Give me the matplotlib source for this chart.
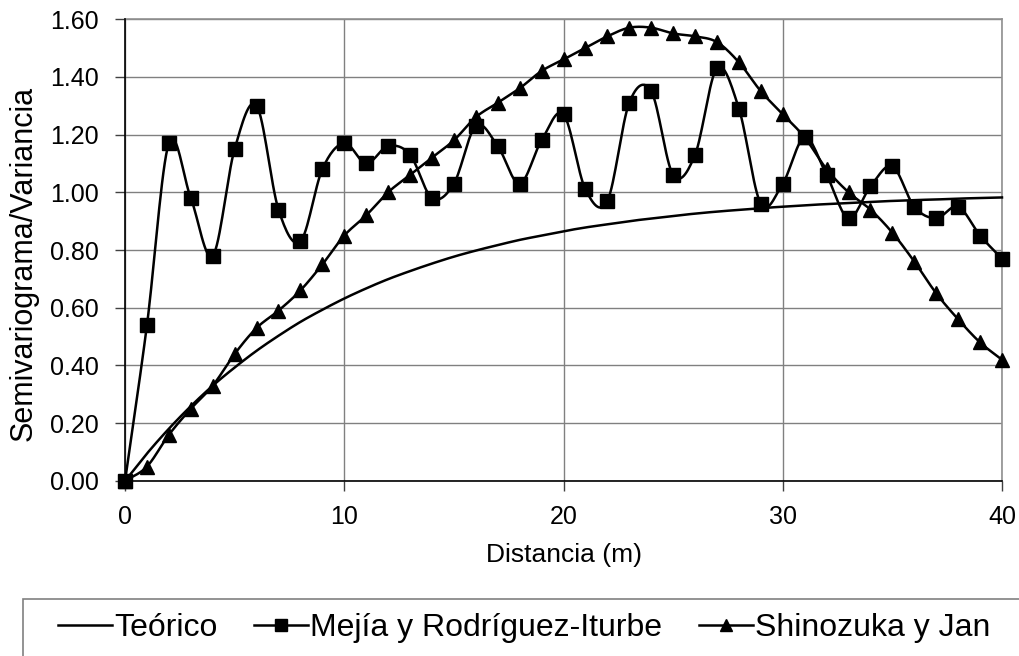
import numpy as np
import matplotlib
matplotlib.use("Agg")
from matplotlib import pyplot as plt
from matplotlib.lines import Line2D
from matplotlib.patches import Rectangle

plt.rcParams['font.family'] = ['Liberation Sans', 'DejaVu Sans']

distancia = list(range(41))

teorico = [0.000, 0.095, 0.181, 0.259, 0.330, 0.393, 0.451, 0.503, 0.551, 0.593,
           0.632, 0.667, 0.699, 0.727, 0.753, 0.777, 0.798, 0.817, 0.835, 0.850,
           0.865, 0.878, 0.889, 0.900, 0.909, 0.918, 0.926, 0.933, 0.939, 0.945,
           0.950, 0.955, 0.959, 0.963, 0.967, 0.970, 0.973, 0.975, 0.978, 0.980, 0.982]

mejia = [0.00, 0.54, 1.17, 0.98, 0.78, 1.15, 1.30, 0.94, 0.83, 1.08,
         1.17, 1.10, 1.16, 1.13, 0.98, 1.03, 1.23, 1.16, 1.03, 1.18,
         1.27, 1.01, 0.97, 1.31, 1.35, 1.06, 1.13, 1.43, 1.29, 0.96,
         1.03, 1.19, 1.06, 0.91, 1.02, 1.09, 0.95, 0.91, 0.95, 0.85, 0.77]

shinozuka = [0.00, 0.05, 0.16, 0.25, 0.33, 0.44, 0.53, 0.59, 0.66, 0.75,
             0.85, 0.92, 1.00, 1.06, 1.12, 1.18, 1.26, 1.31, 1.36, 1.42,
             1.46, 1.50, 1.54, 1.57, 1.57, 1.55, 1.54, 1.52, 1.45, 1.35,
             1.27, 1.19, 1.08, 1.00, 0.94, 0.86, 0.76, 0.65, 0.56, 0.48, 0.42]

nombres = ['Teórico', 'Mejía y Rodríguez-Iturbe', 'Shinozuka y Jan']


def smooth(x, y, n=16):
    # catmull-rom curve through the points, like the spreadsheet "smoothed line"
    x = np.asarray(x, float)
    y = np.asarray(y, float)
    px = np.concatenate([[2*x[0]-x[1]], x, [2*x[-1]-x[-2]]])
    py = np.concatenate([[2*y[0]-y[1]], y, [2*y[-1]-y[-2]]])
    t = np.linspace(0, 1, n, endpoint=False)
    xs, ys = [], []
    for i in range(1, len(px)-2):
        for p, out in ((px, xs), (py, ys)):
            p0, p1, p2, p3 = p[i-1], p[i], p[i+1], p[i+2]
            out.extend(0.5*((2*p1) + (-p0+p2)*t + (2*p0-5*p1+4*p2-p3)*t**2
                            + (-p0+3*p1-3*p2+p3)*t**3))
    xs.append(x[-1])
    ys.append(y[-1])
    return np.array(xs), np.array(ys)


fig = plt.figure(figsize=(10.19, 6.56), dpi=100)
ax = fig.add_axes([0.1227, 0.2668, 0.8606, 0.7042])

lw = 1.8
sx, sy = smooth(distancia, teorico)
ax.plot(sx, sy, color='black', lw=lw, zorder=3, clip_on=False)
sx, sy = smooth(distancia, mejia)
ax.plot(sx, sy, color='black', lw=lw, zorder=3, clip_on=False)
ax.plot(distancia, mejia, 's', color='black', ms=10, zorder=6, clip_on=False)
sx, sy = smooth(distancia, shinozuka)
ax.plot(sx, sy, color='black', lw=lw, zorder=3, clip_on=False)
ax.plot(distancia, shinozuka, '^', color='black', ms=10.5, zorder=6, clip_on=False)

ax.set_xlim(0, 40)
ax.set_ylim(0, 1.6)
ax.set_xticks([0, 10, 20, 30, 40])
ax.set_yticks(np.arange(0, 1.61, 0.2))
ax.set_yticklabels(['%.2f' % v for v in np.arange(0, 1.61, 0.2)])
ax.grid(True, color='#808080', lw=1.0)
ax.set_axisbelow(True)
for s in ('top', 'right'):
    ax.spines[s].set_color('#909090')
    ax.spines[s].set_linewidth(1.2)
for s in ('left', 'bottom'):
    ax.spines[s].set_color('black')
    ax.spines[s].set_linewidth(1.2)
ax.spines['left'].set_zorder(5)
ax.spines['bottom'].set_zorder(5)
ax.tick_params(direction='out', length=7, width=1, color='#404040',
               labelsize=18)
ax.tick_params(axis='y', pad=12)
ax.tick_params(axis='x', pad=10)
ax.set_xlabel('Distancia (m)', fontsize=19)
ax.set_ylabel('Semivariograma/Variancia', fontsize=22)
ax.xaxis.set_label_coords(0.5, -0.135)
ax.yaxis.set_label_coords(-0.098, 0.47)

# legend box runs off the figure edge
fig.patches.append(Rectangle((23/1019, -0.1), 1.1, 1 - 599/656 + 0.1,
                             transform=fig.transFigure, fill=False,
                             edgecolor='#808080', lw=1.2))
handles = [Line2D([], [], color='black', lw=lw),
           Line2D([], [], color='black', lw=lw, marker='s', ms=9),
           Line2D([], [], color='black', lw=lw, marker='^', ms=9)]
fig.legend(handles, nombres,
           loc='center', bbox_to_anchor=(524/1019, 1 - 628/656), ncol=3,
           frameon=False, fontsize=23, handlelength=1.7, handletextpad=0.05,
           columnspacing=1.15, borderpad=0, borderaxespad=0)

fig.savefig('out.png', dpi=100)
